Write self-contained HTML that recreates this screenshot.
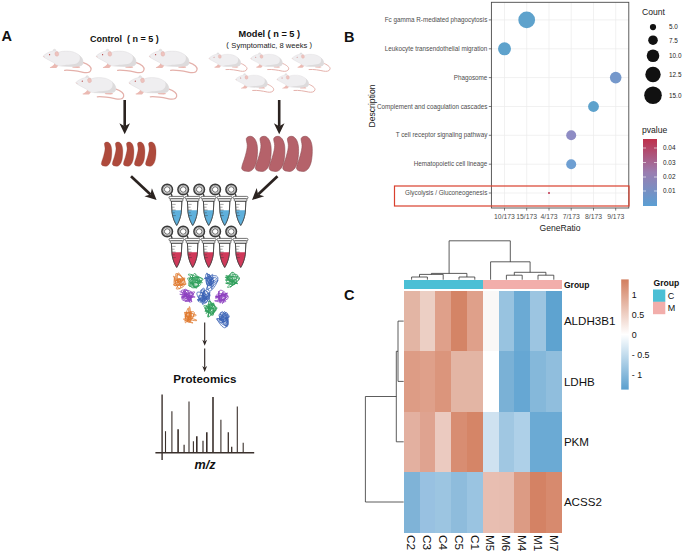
<!DOCTYPE html>
<html><head><meta charset="utf-8"><title>Figure</title>
<style>
html,body{margin:0;padding:0;background:#fff;}
body{width:685px;height:552px;overflow:hidden;font-family:"Liberation Sans",sans-serif;}
svg{display:block;}
</style></head><body>
<svg width="685" height="552" viewBox="0 0 685 552" font-family="Liberation Sans, sans-serif">
<defs>
<linearGradient id="hm" x1="0" y1="0" x2="0" y2="1"><stop offset="0" stop-color="#D27E5E"/><stop offset="0.5" stop-color="#FFFFFF"/><stop offset="1" stop-color="#5A9FCE"/></linearGradient>
<linearGradient id="pv" x1="0" y1="0" x2="0" y2="1"><stop offset="0" stop-color="#BE2F4A"/><stop offset="0.5" stop-color="#9A7DB0"/><stop offset="1" stop-color="#5B9FD3"/></linearGradient>
</defs>
<rect width="685" height="552" fill="#fff"/>
<!-- frag_a.svg -->
<g id="panelA">
<defs><g id="mouse">
<path d="M39.6 12.8C44 14.4 48.7 17.4 48 20.1C47.3 23.2 43 23.4 40 22.8C34 21.6 28 20.3 21.6 20.8" fill="none" stroke="#E4B0AA" stroke-width="1.25" stroke-linecap="round"/>
<path d="M11.6 13.6C11 15.8 9.4 17 6.9 17.7C6.6 18.3 7.4 18.5 8.4 18.4L13.3 18.5C14.4 17.6 15 16.6 15.4 15.6Z" fill="#EBB9B2"/>
<path d="M29.2 17.3C29.6 15.6 32.5 15.2 34.5 15.6L37.2 17.6C37 18.3 36 18.5 34.6 18.4L30 18.3C29.3 18.2 29 17.8 29.2 17.3Z" fill="#EBB9B2"/>
<ellipse cx="11.5" cy="1.3" rx="1.5" ry="1.7" fill="#E6E4E5" stroke="#D6D3D4" stroke-width="0.3"/>
<path d="M0.3 6.4C2 4.5 6 2.2 9.5 1.6C11 0.9 13 1.5 15.8 2.7C20 1.2 26 1.4 29.7 2.3C35 3.8 39 7.5 39.9 10.9C40.6 13.5 39.6 15.6 37.9 16.2C32 17.4 24 17 17.4 16.6C14.5 16.2 12 15 10.9 13.3C8 11.6 4.5 10 1.9 8.4C0.8 7.8 0 7 0.3 6.4Z" fill="#EFEEF0" stroke="#D9D6D8" stroke-width="0.4"/>
<path d="M17.4 16.6C24 17 32 17.4 37.9 16.2C39.6 15.6 40.6 13.5 39.9 10.9C39.4 9 38 7 36.2 5.6C37.6 9 37 12.4 33.5 13.9C29 15.4 22 14.6 17.4 16.6Z" fill="#DDDBDC"/>
<ellipse cx="13.8" cy="4.4" rx="1.9" ry="2.3" fill="#EEC3BE" stroke="#DDA9A3" stroke-width="0.35" transform="rotate(-12 13.8 4.4)"/>
<circle cx="6.6" cy="5.2" r="0.6" fill="#B23838"/>
<path d="M0.2 6.6C0.6 7.2 1.2 7.6 1.8 7.6" fill="none" stroke="#E8B8B4" stroke-width="0.6"/>
</g></defs>
<use href="#mouse" x="43" y="49.5"/>
<use href="#mouse" x="96" y="49.5"/>
<use href="#mouse" x="149" y="49.5"/>
<use href="#mouse" x="75.7" y="76"/>
<use href="#mouse" x="128.7" y="76"/>
<use href="#mouse" transform="translate(208.8 53) scale(0.795)"/>
<use href="#mouse" transform="translate(250.5 53) scale(0.795)"/>
<use href="#mouse" transform="translate(291.9 53) scale(0.795)"/>
<use href="#mouse" transform="translate(235.5 73.9) scale(0.795)"/>
<use href="#mouse" transform="translate(276.8 73.9) scale(0.795)"/>
<g fill="#111" font-weight="bold">
<text x="1.5" y="41" font-size="14.5">A</text>
<text x="90" y="41.7" font-size="9" xml:space="preserve">Control  ( n = 5 )</text>
<text x="269.3" y="36.7" font-size="9.2" text-anchor="middle">Model ( n = 5 )</text>
<text x="204.8" y="383.3" font-size="11.6" text-anchor="middle">Proteomics</text>
<text x="205" y="468.6" font-size="12.6" font-style="italic" text-anchor="middle">m/z</text>
</g>
<text x="269.3" y="47.6" font-size="7.6" fill="#222" text-anchor="middle">Symptomatic, 8 weeks</text><text x="227.6" y="47.4" font-size="7.6" fill="#222" text-anchor="middle">(</text><text x="310.8" y="47.4" font-size="7.6" fill="#222" text-anchor="middle">)</text>
<path d="M124.7 100.0L124.7 126.3" stroke="#2b2320" stroke-width="2.6"/><path d="M124.7 134.2L119.4 123.2L124.7 126.3L130.0 123.2Z" fill="#2b2320"/>
<path d="M279.2 100.0L279.2 126.3" stroke="#2b2320" stroke-width="2.6"/><path d="M279.2 134.2L273.9 123.2L279.2 126.3L284.5 123.2Z" fill="#2b2320"/>
<path d="M131.0 176.3L150.5 194.4" stroke="#2b2320" stroke-width="2.7"/><path d="M156.6 200.0L144.4 196.2L150.5 194.4L151.9 188.2Z" fill="#2b2320"/>
<path d="M277.5 176.3L258.1 194.4" stroke="#2b2320" stroke-width="2.7"/><path d="M252.0 200.0L256.7 188.1L258.1 194.4L264.2 196.2Z" fill="#2b2320"/>
<path d="M204.7 322.6L204.7 341.4" stroke="#2b2320" stroke-width="1.1"/><path d="M204.7 345.7L202.3 339.7L204.7 341.4L207.1 339.7Z" fill="#2b2320"/>
<path d="M204.7 348.4L204.7 367.7" stroke="#2b2320" stroke-width="1.1"/><path d="M204.7 372.0L202.3 366.0L204.7 367.7L207.1 366.0Z" fill="#2b2320"/>
<path d="M3.3 1.6C3.6 0.4 5 0 6.2 0C8.8 0.2 10.6 4 10.7 8.4C10.8 11.5 10.6 14 10.2 16.5C9.6 20.5 7.6 24 5.1 24.2C2.6 24.4 0 23.6 0.2 21.7C0.6 18.8 1.9 16.5 2.6 13.5C3.4 10.5 3.9 8.5 3.9 6.3C3.9 4.5 3.1 3 3.3 1.6Z" transform="translate(101.1 142)" fill="#AE4A3C" stroke="#8E3A30" stroke-width="0.3"/>
<path d="M3.3 1.6C3.6 0.4 5 0 6.2 0C8.8 0.2 10.6 4 10.7 8.4C10.8 11.5 10.6 14 10.2 16.5C9.6 20.5 7.6 24 5.1 24.2C2.6 24.4 0 23.6 0.2 21.7C0.6 18.8 1.9 16.5 2.6 13.5C3.4 10.5 3.9 8.5 3.9 6.3C3.9 4.5 3.1 3 3.3 1.6Z" transform="translate(112.1 142)" fill="#AE4A3C" stroke="#8E3A30" stroke-width="0.3"/>
<path d="M3.3 1.6C3.6 0.4 5 0 6.2 0C8.8 0.2 10.6 4 10.7 8.4C10.8 11.5 10.6 14 10.2 16.5C9.6 20.5 7.6 24 5.1 24.2C2.6 24.4 0 23.6 0.2 21.7C0.6 18.8 1.9 16.5 2.6 13.5C3.4 10.5 3.9 8.5 3.9 6.3C3.9 4.5 3.1 3 3.3 1.6Z" transform="translate(123.2 142)" fill="#AE4A3C" stroke="#8E3A30" stroke-width="0.3"/>
<path d="M3.3 1.6C3.6 0.4 5 0 6.2 0C8.8 0.2 10.6 4 10.7 8.4C10.8 11.5 10.6 14 10.2 16.5C9.6 20.5 7.6 24 5.1 24.2C2.6 24.4 0 23.6 0.2 21.7C0.6 18.8 1.9 16.5 2.6 13.5C3.4 10.5 3.9 8.5 3.9 6.3C3.9 4.5 3.1 3 3.3 1.6Z" transform="translate(134.2 142)" fill="#AE4A3C" stroke="#8E3A30" stroke-width="0.3"/>
<path d="M3.3 1.6C3.6 0.4 5 0 6.2 0C8.8 0.2 10.6 4 10.7 8.4C10.8 11.5 10.6 14 10.2 16.5C9.6 20.5 7.6 24 5.1 24.2C2.6 24.4 0 23.6 0.2 21.7C0.6 18.8 1.9 16.5 2.6 13.5C3.4 10.5 3.9 8.5 3.9 6.3C3.9 4.5 3.1 3 3.3 1.6Z" transform="translate(145.3 142)" fill="#AE4A3C" stroke="#8E3A30" stroke-width="0.3"/>
<path d="M3.3 1.6C3.6 0.4 5 0 6.2 0C8.8 0.2 10.6 4 10.7 8.4C10.8 11.5 10.6 14 10.2 16.5C9.6 20.5 7.6 24 5.1 24.2C2.6 24.4 0 23.6 0.2 21.7C0.6 18.8 1.9 16.5 2.6 13.5C3.4 10.5 3.9 8.5 3.9 6.3C3.9 4.5 3.1 3 3.3 1.6Z" transform="translate(241.4 136.3) scale(1.5 1.45)" fill="#B5626A" stroke="#8E4A52" stroke-width="0.4"/>
<path d="M3.3 1.6C3.6 0.4 5 0 6.2 0C8.8 0.2 10.6 4 10.7 8.4C10.8 11.5 10.6 14 10.2 16.5C9.6 20.5 7.6 24 5.1 24.2C2.6 24.4 0 23.6 0.2 21.7C0.6 18.8 1.9 16.5 2.6 13.5C3.4 10.5 3.9 8.5 3.9 6.3C3.9 4.5 3.1 3 3.3 1.6Z" transform="translate(255.1 136.3) scale(1.5 1.45)" fill="#B5626A" stroke="#8E4A52" stroke-width="0.4"/>
<path d="M3.3 1.6C3.6 0.4 5 0 6.2 0C8.8 0.2 10.6 4 10.7 8.4C10.8 11.5 10.6 14 10.2 16.5C9.6 20.5 7.6 24 5.1 24.2C2.6 24.4 0 23.6 0.2 21.7C0.6 18.8 1.9 16.5 2.6 13.5C3.4 10.5 3.9 8.5 3.9 6.3C3.9 4.5 3.1 3 3.3 1.6Z" transform="translate(268.8 136.3) scale(1.5 1.45)" fill="#B5626A" stroke="#8E4A52" stroke-width="0.4"/>
<path d="M3.3 1.6C3.6 0.4 5 0 6.2 0C8.8 0.2 10.6 4 10.7 8.4C10.8 11.5 10.6 14 10.2 16.5C9.6 20.5 7.6 24 5.1 24.2C2.6 24.4 0 23.6 0.2 21.7C0.6 18.8 1.9 16.5 2.6 13.5C3.4 10.5 3.9 8.5 3.9 6.3C3.9 4.5 3.1 3 3.3 1.6Z" transform="translate(282.5 136.3) scale(1.5 1.45)" fill="#B5626A" stroke="#8E4A52" stroke-width="0.4"/>
<path d="M3.3 1.6C3.6 0.4 5 0 6.2 0C8.8 0.2 10.6 4 10.7 8.4C10.8 11.5 10.6 14 10.2 16.5C9.6 20.5 7.6 24 5.1 24.2C2.6 24.4 0 23.6 0.2 21.7C0.6 18.8 1.9 16.5 2.6 13.5C3.4 10.5 3.9 8.5 3.9 6.3C3.9 4.5 3.1 3 3.3 1.6Z" transform="translate(296.2 136.3) scale(1.5 1.45)" fill="#B5626A" stroke="#8E4A52" stroke-width="0.4"/>
<g transform="translate(169.0 196.4)" stroke="#3a3a3a" stroke-width="0.7" fill="#fff"><circle cx="-1.8" cy="-6.9" r="5.3" stroke-width="1.5"/><circle cx="-1.8" cy="-6.9" r="4.05" stroke-width="0.5" fill="none"/><circle cx="-1.8" cy="-6.9" r="2.8" stroke-width="0.8"/><path d="M2.2 -2.6L3.2 0.2" stroke-width="1.3"/><path d="M2.4 4.6H12.9L12.3 16C11.6 21.5 9.4 26.5 7.7 29C6 26.5 3.7 21.5 3 16Z"/><path d="M2.95 13.9H12.4L12.3 16C11.6 21.5 9.4 26.5 7.7 29C6 26.5 3.7 21.5 3 16Z" fill="#5FB0DC" stroke="none"/><path d="M2.4 4.6H12.9L12.3 16C11.6 21.5 9.4 26.5 7.7 29C6 26.5 3.7 21.5 3 16Z" fill="none"/><path d="M3.2 8h3.4M3.2 10.8h2.4M3.2 13.6h3.4M3.4 16.4h2.4M3.8 19.2h3" stroke-width="0.45"/><rect x="0" y="0" width="15" height="2.4" rx="1.2"/><rect x="1.2" y="2.4" width="12.8" height="2.3" rx="1"/></g>
<g transform="translate(185.0 196.4)" stroke="#3a3a3a" stroke-width="0.7" fill="#fff"><circle cx="-1.8" cy="-6.9" r="5.3" stroke-width="1.5"/><circle cx="-1.8" cy="-6.9" r="4.05" stroke-width="0.5" fill="none"/><circle cx="-1.8" cy="-6.9" r="2.8" stroke-width="0.8"/><path d="M2.2 -2.6L3.2 0.2" stroke-width="1.3"/><path d="M2.4 4.6H12.9L12.3 16C11.6 21.5 9.4 26.5 7.7 29C6 26.5 3.7 21.5 3 16Z"/><path d="M2.95 13.9H12.4L12.3 16C11.6 21.5 9.4 26.5 7.7 29C6 26.5 3.7 21.5 3 16Z" fill="#5FB0DC" stroke="none"/><path d="M2.4 4.6H12.9L12.3 16C11.6 21.5 9.4 26.5 7.7 29C6 26.5 3.7 21.5 3 16Z" fill="none"/><path d="M3.2 8h3.4M3.2 10.8h2.4M3.2 13.6h3.4M3.4 16.4h2.4M3.8 19.2h3" stroke-width="0.45"/><rect x="0" y="0" width="15" height="2.4" rx="1.2"/><rect x="1.2" y="2.4" width="12.8" height="2.3" rx="1"/></g>
<g transform="translate(201.0 196.4)" stroke="#3a3a3a" stroke-width="0.7" fill="#fff"><circle cx="-1.8" cy="-6.9" r="5.3" stroke-width="1.5"/><circle cx="-1.8" cy="-6.9" r="4.05" stroke-width="0.5" fill="none"/><circle cx="-1.8" cy="-6.9" r="2.8" stroke-width="0.8"/><path d="M2.2 -2.6L3.2 0.2" stroke-width="1.3"/><path d="M2.4 4.6H12.9L12.3 16C11.6 21.5 9.4 26.5 7.7 29C6 26.5 3.7 21.5 3 16Z"/><path d="M2.95 13.9H12.4L12.3 16C11.6 21.5 9.4 26.5 7.7 29C6 26.5 3.7 21.5 3 16Z" fill="#5FB0DC" stroke="none"/><path d="M2.4 4.6H12.9L12.3 16C11.6 21.5 9.4 26.5 7.7 29C6 26.5 3.7 21.5 3 16Z" fill="none"/><path d="M3.2 8h3.4M3.2 10.8h2.4M3.2 13.6h3.4M3.4 16.4h2.4M3.8 19.2h3" stroke-width="0.45"/><rect x="0" y="0" width="15" height="2.4" rx="1.2"/><rect x="1.2" y="2.4" width="12.8" height="2.3" rx="1"/></g>
<g transform="translate(217.0 196.4)" stroke="#3a3a3a" stroke-width="0.7" fill="#fff"><circle cx="-1.8" cy="-6.9" r="5.3" stroke-width="1.5"/><circle cx="-1.8" cy="-6.9" r="4.05" stroke-width="0.5" fill="none"/><circle cx="-1.8" cy="-6.9" r="2.8" stroke-width="0.8"/><path d="M2.2 -2.6L3.2 0.2" stroke-width="1.3"/><path d="M2.4 4.6H12.9L12.3 16C11.6 21.5 9.4 26.5 7.7 29C6 26.5 3.7 21.5 3 16Z"/><path d="M2.95 13.9H12.4L12.3 16C11.6 21.5 9.4 26.5 7.7 29C6 26.5 3.7 21.5 3 16Z" fill="#5FB0DC" stroke="none"/><path d="M2.4 4.6H12.9L12.3 16C11.6 21.5 9.4 26.5 7.7 29C6 26.5 3.7 21.5 3 16Z" fill="none"/><path d="M3.2 8h3.4M3.2 10.8h2.4M3.2 13.6h3.4M3.4 16.4h2.4M3.8 19.2h3" stroke-width="0.45"/><rect x="0" y="0" width="15" height="2.4" rx="1.2"/><rect x="1.2" y="2.4" width="12.8" height="2.3" rx="1"/></g>
<g transform="translate(233.0 196.4)" stroke="#3a3a3a" stroke-width="0.7" fill="#fff"><circle cx="-1.8" cy="-6.9" r="5.3" stroke-width="1.5"/><circle cx="-1.8" cy="-6.9" r="4.05" stroke-width="0.5" fill="none"/><circle cx="-1.8" cy="-6.9" r="2.8" stroke-width="0.8"/><path d="M2.2 -2.6L3.2 0.2" stroke-width="1.3"/><path d="M2.4 4.6H12.9L12.3 16C11.6 21.5 9.4 26.5 7.7 29C6 26.5 3.7 21.5 3 16Z"/><path d="M2.95 13.9H12.4L12.3 16C11.6 21.5 9.4 26.5 7.7 29C6 26.5 3.7 21.5 3 16Z" fill="#5FB0DC" stroke="none"/><path d="M2.4 4.6H12.9L12.3 16C11.6 21.5 9.4 26.5 7.7 29C6 26.5 3.7 21.5 3 16Z" fill="none"/><path d="M3.2 8h3.4M3.2 10.8h2.4M3.2 13.6h3.4M3.4 16.4h2.4M3.8 19.2h3" stroke-width="0.45"/><rect x="0" y="0" width="15" height="2.4" rx="1.2"/><rect x="1.2" y="2.4" width="12.8" height="2.3" rx="1"/></g>
<g transform="translate(169.0 238.4)" stroke="#3a3a3a" stroke-width="0.7" fill="#fff"><circle cx="-1.8" cy="-6.9" r="5.3" stroke-width="1.5"/><circle cx="-1.8" cy="-6.9" r="4.05" stroke-width="0.5" fill="none"/><circle cx="-1.8" cy="-6.9" r="2.8" stroke-width="0.8"/><path d="M2.2 -2.6L3.2 0.2" stroke-width="1.3"/><path d="M2.4 4.6H12.9L12.3 16C11.6 21.5 9.4 26.5 7.7 29C6 26.5 3.7 21.5 3 16Z"/><path d="M2.95 13.9H12.4L12.3 16C11.6 21.5 9.4 26.5 7.7 29C6 26.5 3.7 21.5 3 16Z" fill="#D0395A" stroke="none"/><path d="M2.4 4.6H12.9L12.3 16C11.6 21.5 9.4 26.5 7.7 29C6 26.5 3.7 21.5 3 16Z" fill="none"/><path d="M3.2 8h3.4M3.2 10.8h2.4M3.2 13.6h3.4M3.4 16.4h2.4M3.8 19.2h3" stroke-width="0.45"/><rect x="0" y="0" width="15" height="2.4" rx="1.2"/><rect x="1.2" y="2.4" width="12.8" height="2.3" rx="1"/></g>
<g transform="translate(185.0 238.4)" stroke="#3a3a3a" stroke-width="0.7" fill="#fff"><circle cx="-1.8" cy="-6.9" r="5.3" stroke-width="1.5"/><circle cx="-1.8" cy="-6.9" r="4.05" stroke-width="0.5" fill="none"/><circle cx="-1.8" cy="-6.9" r="2.8" stroke-width="0.8"/><path d="M2.2 -2.6L3.2 0.2" stroke-width="1.3"/><path d="M2.4 4.6H12.9L12.3 16C11.6 21.5 9.4 26.5 7.7 29C6 26.5 3.7 21.5 3 16Z"/><path d="M2.95 13.9H12.4L12.3 16C11.6 21.5 9.4 26.5 7.7 29C6 26.5 3.7 21.5 3 16Z" fill="#D0395A" stroke="none"/><path d="M2.4 4.6H12.9L12.3 16C11.6 21.5 9.4 26.5 7.7 29C6 26.5 3.7 21.5 3 16Z" fill="none"/><path d="M3.2 8h3.4M3.2 10.8h2.4M3.2 13.6h3.4M3.4 16.4h2.4M3.8 19.2h3" stroke-width="0.45"/><rect x="0" y="0" width="15" height="2.4" rx="1.2"/><rect x="1.2" y="2.4" width="12.8" height="2.3" rx="1"/></g>
<g transform="translate(201.0 238.4)" stroke="#3a3a3a" stroke-width="0.7" fill="#fff"><circle cx="-1.8" cy="-6.9" r="5.3" stroke-width="1.5"/><circle cx="-1.8" cy="-6.9" r="4.05" stroke-width="0.5" fill="none"/><circle cx="-1.8" cy="-6.9" r="2.8" stroke-width="0.8"/><path d="M2.2 -2.6L3.2 0.2" stroke-width="1.3"/><path d="M2.4 4.6H12.9L12.3 16C11.6 21.5 9.4 26.5 7.7 29C6 26.5 3.7 21.5 3 16Z"/><path d="M2.95 13.9H12.4L12.3 16C11.6 21.5 9.4 26.5 7.7 29C6 26.5 3.7 21.5 3 16Z" fill="#D0395A" stroke="none"/><path d="M2.4 4.6H12.9L12.3 16C11.6 21.5 9.4 26.5 7.7 29C6 26.5 3.7 21.5 3 16Z" fill="none"/><path d="M3.2 8h3.4M3.2 10.8h2.4M3.2 13.6h3.4M3.4 16.4h2.4M3.8 19.2h3" stroke-width="0.45"/><rect x="0" y="0" width="15" height="2.4" rx="1.2"/><rect x="1.2" y="2.4" width="12.8" height="2.3" rx="1"/></g>
<g transform="translate(217.0 238.4)" stroke="#3a3a3a" stroke-width="0.7" fill="#fff"><circle cx="-1.8" cy="-6.9" r="5.3" stroke-width="1.5"/><circle cx="-1.8" cy="-6.9" r="4.05" stroke-width="0.5" fill="none"/><circle cx="-1.8" cy="-6.9" r="2.8" stroke-width="0.8"/><path d="M2.2 -2.6L3.2 0.2" stroke-width="1.3"/><path d="M2.4 4.6H12.9L12.3 16C11.6 21.5 9.4 26.5 7.7 29C6 26.5 3.7 21.5 3 16Z"/><path d="M2.95 13.9H12.4L12.3 16C11.6 21.5 9.4 26.5 7.7 29C6 26.5 3.7 21.5 3 16Z" fill="#D0395A" stroke="none"/><path d="M2.4 4.6H12.9L12.3 16C11.6 21.5 9.4 26.5 7.7 29C6 26.5 3.7 21.5 3 16Z" fill="none"/><path d="M3.2 8h3.4M3.2 10.8h2.4M3.2 13.6h3.4M3.4 16.4h2.4M3.8 19.2h3" stroke-width="0.45"/><rect x="0" y="0" width="15" height="2.4" rx="1.2"/><rect x="1.2" y="2.4" width="12.8" height="2.3" rx="1"/></g>
<g transform="translate(233.0 238.4)" stroke="#3a3a3a" stroke-width="0.7" fill="#fff"><circle cx="-1.8" cy="-6.9" r="5.3" stroke-width="1.5"/><circle cx="-1.8" cy="-6.9" r="4.05" stroke-width="0.5" fill="none"/><circle cx="-1.8" cy="-6.9" r="2.8" stroke-width="0.8"/><path d="M2.2 -2.6L3.2 0.2" stroke-width="1.3"/><path d="M2.4 4.6H12.9L12.3 16C11.6 21.5 9.4 26.5 7.7 29C6 26.5 3.7 21.5 3 16Z"/><path d="M2.95 13.9H12.4L12.3 16C11.6 21.5 9.4 26.5 7.7 29C6 26.5 3.7 21.5 3 16Z" fill="#D0395A" stroke="none"/><path d="M2.4 4.6H12.9L12.3 16C11.6 21.5 9.4 26.5 7.7 29C6 26.5 3.7 21.5 3 16Z" fill="none"/><path d="M3.2 8h3.4M3.2 10.8h2.4M3.2 13.6h3.4M3.4 16.4h2.4M3.8 19.2h3" stroke-width="0.45"/><rect x="0" y="0" width="15" height="2.4" rx="1.2"/><rect x="1.2" y="2.4" width="12.8" height="2.3" rx="1"/></g>
<path d="M180.6 280.2C178.8 281.8 175.9 287.0 174.7 285.5C173.5 283.9 173.7 276.4 176.6 275.0C179.6 273.6 184.0 277.9 184.5 280.8C185.1 283.7 180.4 287.0 178.5 284.6C176.7 282.2 177.1 273.2 178.4 272.9C179.8 272.6 184.5 282.6 183.0 283.6C181.5 284.6 173.7 275.5 173.4 276.2C173.0 276.8 179.9 284.5 181.9 285.7C183.9 286.9 182.0 281.3 180.0 280.1C178.1 278.8 175.2 281.9 175.3 281.7C175.3 281.4 179.1 277.2 180.3 279.3C181.5 281.4 181.0 289.0 179.2 288.7C177.5 288.4 173.7 279.1 174.4 278.2C175.1 277.3 180.6 285.4 181.6 285.7C182.5 286.0 177.3 280.7 177.7 279.2C178.0 277.7 183.6 280.3 182.7 280.7C181.9 281.1 174.2 281.0 174.8 280.6C175.3 280.3 184.6 278.4 184.6 279.5C184.6 280.6 174.4 283.0 174.8 284.3C175.3 285.6 186.7 283.8 186.2 284.0C185.8 284.2 173.7 286.7 173.4 285.0C173.0 283.3 184.5 279.5 185.1 278.4C185.7 277.2 177.2 279.3 175.4 281.1C173.7 283.0 179.1 286.8 179.3 284.5C179.5 282.3 174.2 274.1 176.0 273.6C177.8 273.1 185.2 278.3 185.3 282.8C185.4 287.4 176.7 290.0 176.3 288.8C175.9 287.6 181.6 281.9 183.9 278.9" fill="none" stroke="#E07A2E" stroke-width="0.8" stroke-linejoin="round" stroke-linecap="round"/>
<path d="M189.5 282.9C192.8 282.2 200.8 283.2 200.5 280.6C200.2 278.0 189.0 272.9 188.4 274.3C187.9 275.7 198.4 282.0 198.6 285.3C198.8 288.5 187.8 286.9 189.2 285.1C190.5 283.3 202.7 281.4 203.1 279.3C203.6 277.2 191.3 276.8 190.6 278.0C189.9 279.3 200.5 280.7 200.8 283.5C201.0 286.3 193.9 289.0 191.5 287.4C189.1 285.7 189.7 280.3 192.9 278.0C196.0 275.7 202.1 277.2 202.1 279.6C202.2 282.1 195.4 288.1 193.0 286.2C190.6 284.4 192.1 274.5 194.1 273.6C196.1 272.6 201.5 281.8 199.6 283.2C197.7 284.5 188.6 276.5 187.7 278.1C186.7 279.6 195.8 288.4 196.4 288.3C197.1 288.3 188.0 279.5 189.8 277.8C191.6 276.1 201.1 282.8 202.3 282.7C203.5 282.7 195.2 277.5 193.8 277.7C192.5 277.8 199.0 281.5 197.8 283.1C196.6 284.8 189.5 283.8 189.9 283.0C190.3 282.3 197.8 279.3 199.1 280.6C200.5 281.9 196.5 289.2 194.3 287.4C192.2 285.6 193.4 274.9 191.9 274.5C190.4 274.2 187.4 285.7 189.4 286.4C191.5 287.0 197.8 278.2 198.8 276.9C199.7 275.5 192.7 279.2 192.6 281.9C192.5 284.6 197.5 288.1 198.5 285.9C199.4 283.8 196.6 278.2 195.7 274.8" fill="none" stroke="#2E9E5B" stroke-width="0.8" stroke-linejoin="round" stroke-linecap="round"/>
<path d="M209.2 274.8C210.4 276.8 213.5 278.7 213.3 281.4C213.0 284.2 209.0 284.6 208.4 284.0C207.8 283.3 209.7 279.7 211.2 279.3C212.7 278.9 214.6 280.9 213.4 282.6C212.3 284.3 209.5 287.5 207.4 284.8C205.3 282.2 205.2 273.7 206.5 273.7C207.7 273.7 211.7 283.5 211.6 284.8C211.5 286.2 205.5 279.1 206.2 278.2C206.8 277.2 213.6 283.3 213.8 281.8C213.9 280.2 206.8 272.0 206.7 273.1C206.6 274.2 213.0 282.9 213.5 285.5C214.0 288.2 208.4 284.3 208.5 282.0C208.5 279.7 214.1 278.4 213.8 278.0C213.6 277.7 207.9 281.9 207.5 280.8C207.2 279.8 212.2 273.2 212.7 274.5C213.3 275.8 209.8 283.6 209.4 285.1C209.0 286.7 212.2 278.3 211.4 279.7C210.6 281.1 204.8 289.6 206.8 289.7C208.8 289.9 217.8 281.7 218.0 280.3C218.2 279.0 210.1 287.1 207.5 285.2C204.8 283.4 207.8 273.0 209.2 274.2C210.6 275.4 212.4 288.3 212.0 289.3C211.6 290.3 208.6 277.0 207.9 277.5C207.1 278.1 206.6 291.2 209.6 291.1C212.5 291.0 219.3 280.9 217.7 277.1C216.0 273.3 204.4 278.2 204.0 278.5C203.7 278.9 214.9 276.8 216.5 278.1C218.1 279.5 211.6 281.5 209.5 283.0" fill="none" stroke="#3A62B5" stroke-width="0.8" stroke-linejoin="round" stroke-linecap="round"/>
<path d="M226.2 283.1C228.9 283.1 233.0 286.1 235.2 282.9C237.4 279.7 235.9 273.5 233.6 272.5C231.3 271.5 227.5 278.4 227.6 279.6C227.7 280.9 232.5 275.5 233.8 276.6C235.2 277.7 232.6 284.7 232.2 283.3C231.8 282.0 234.0 272.3 232.5 272.1C230.9 271.8 224.9 280.6 227.0 282.5C229.2 284.3 238.6 276.8 239.5 278.2C240.4 279.7 230.1 287.5 230.0 287.2C229.9 287.0 240.2 280.5 239.2 277.4C238.2 274.4 227.2 277.7 226.7 277.1C226.3 276.5 237.5 272.5 237.7 275.5C238.0 278.6 227.8 285.6 227.5 287.2C227.2 288.8 237.5 283.1 236.9 281.0C236.2 278.8 226.0 279.9 225.3 280.0C224.6 280.1 233.4 280.9 234.5 281.3C235.6 281.8 228.0 280.9 228.9 281.4C229.8 282.0 238.4 282.7 237.5 283.3C236.5 283.8 226.3 283.0 225.7 283.2C225.1 283.4 235.2 285.6 235.4 283.9C235.7 282.1 227.3 279.2 226.5 277.5C225.6 275.9 232.8 278.9 232.7 278.4C232.6 277.9 224.6 274.2 226.0 275.8C227.5 277.4 237.8 283.4 237.6 283.8C237.3 284.1 226.6 277.2 225.2 277.0C223.7 276.7 232.0 282.8 232.8 282.9C233.5 283.0 226.1 279.0 227.7 277.3C229.3 275.6 234.9 277.3 238.0 277.3" fill="none" stroke="#2E9E5B" stroke-width="0.8" stroke-linejoin="round" stroke-linecap="round"/>
<path d="M180.0 291.7C183.8 293.4 192.7 296.6 192.7 297.3C192.6 298.1 179.0 294.3 179.8 294.2C180.5 294.1 194.4 296.2 195.1 297.0C195.7 297.7 183.8 296.8 182.0 296.7C180.1 296.7 188.3 296.6 189.0 296.7C189.7 296.9 184.9 299.4 184.2 297.3C183.6 295.3 184.8 289.3 186.9 289.9C189.0 290.6 191.7 299.3 191.1 299.4C190.5 299.6 184.8 290.5 184.7 290.6C184.7 290.7 192.1 299.7 191.1 299.8C190.0 299.8 180.6 292.6 181.3 290.7C182.0 288.9 192.2 290.4 193.4 293.7C194.6 296.9 185.4 301.5 185.3 301.5C185.2 301.5 194.1 294.5 193.0 293.7C192.0 292.8 182.6 296.6 181.8 298.6C180.9 300.6 189.5 302.6 190.3 300.3C191.1 298.0 184.5 290.2 184.4 290.9C184.4 291.6 190.4 302.6 190.1 302.6C189.7 302.7 182.7 291.3 183.2 291.0C183.7 290.8 191.0 302.3 191.6 301.8C192.3 301.2 187.7 290.0 185.4 289.2C183.2 288.4 181.5 298.3 184.2 299.1C187.0 300.0 194.8 293.2 194.7 292.0C194.6 290.9 185.0 295.0 184.0 295.2C183.1 295.4 190.2 290.9 191.5 292.6C192.9 294.3 191.6 299.5 188.6 300.8C185.6 302.1 180.5 296.8 181.4 296.9C182.4 297.0 188.7 299.9 191.8 301.3" fill="none" stroke="#8B3FBF" stroke-width="0.8" stroke-linejoin="round" stroke-linecap="round"/>
<path d="M203.0 293.1C201.6 295.5 198.4 302.7 198.5 301.2C198.7 299.7 201.5 287.5 203.6 288.0C205.6 288.5 203.6 301.7 205.5 302.9C207.3 304.0 210.4 292.0 209.8 291.8C209.2 291.6 205.2 302.3 203.4 302.1C201.5 301.9 202.5 291.9 203.6 291.1C204.7 290.4 207.3 298.6 207.1 299.6C206.9 300.7 203.9 293.7 203.1 294.6C202.3 295.5 206.0 302.1 204.5 302.6C203.1 303.0 197.1 297.6 198.2 296.2C199.3 294.8 207.7 296.1 208.2 297.9C208.7 299.6 199.2 303.0 199.8 302.1C200.4 301.1 209.3 295.3 210.1 294.8C211.0 294.3 206.5 301.0 202.6 300.4C198.7 299.7 196.0 293.9 197.1 292.5C198.1 291.1 206.2 293.3 206.2 295.6C206.1 297.8 196.7 299.2 197.0 299.9C197.2 300.6 206.6 297.5 206.9 297.7C207.3 298.0 197.3 302.2 198.1 300.7C198.8 299.2 207.6 293.3 209.3 292.8C211.0 292.2 204.9 299.7 203.8 298.9C202.6 298.1 203.9 289.3 205.7 290.2C207.4 291.1 211.0 301.9 209.5 302.0C208.0 302.1 200.5 292.6 200.6 290.5C200.6 288.5 209.1 291.1 209.7 295.1C210.3 299.1 204.3 305.0 202.4 303.8C200.5 302.7 203.3 291.1 203.4 291.2C203.6 291.4 203.0 300.5 202.8 304.4" fill="none" stroke="#3A62B5" stroke-width="0.8" stroke-linejoin="round" stroke-linecap="round"/>
<path d="M222.7 292.1C223.4 294.2 226.3 296.6 225.1 298.9C224.0 301.2 219.5 301.9 218.9 299.8C218.4 297.8 223.6 292.0 223.3 292.0C223.1 292.0 217.7 299.0 218.1 299.8C218.4 300.6 223.5 295.1 224.5 294.7C225.4 294.3 222.2 298.6 221.3 298.5C220.4 298.5 221.9 293.3 221.6 294.7C221.2 296.0 221.0 304.1 220.2 303.1C219.3 302.0 218.8 292.2 218.8 291.2C218.9 290.2 217.7 298.2 220.3 299.7C222.9 301.1 229.0 296.4 227.6 295.9C226.1 295.4 215.8 298.7 215.4 298.1C215.1 297.5 226.5 294.2 226.4 293.9C226.3 293.6 214.9 297.2 215.2 297.0C215.6 296.8 227.1 293.3 227.6 293.2C228.0 293.1 216.9 296.0 216.6 296.6C216.3 297.2 224.9 294.3 226.5 295.2C228.2 296.1 225.1 299.9 222.1 299.7C219.2 299.6 215.9 296.1 216.7 294.7C217.6 293.4 223.3 292.6 225.0 295.3C226.7 298.0 221.9 304.3 222.4 303.6C222.9 303.0 227.0 293.9 226.6 293.1C226.1 292.4 222.8 301.9 220.9 301.0C219.0 300.1 218.0 291.0 220.1 290.2C222.3 289.4 229.6 295.2 228.0 298.4C226.4 301.5 215.3 299.9 214.7 300.7C214.1 301.6 225.7 302.7 225.9 301.3C226.2 300.0 218.7 297.7 215.6 296.2" fill="none" stroke="#8B3FBF" stroke-width="0.8" stroke-linejoin="round" stroke-linecap="round"/>
<path d="M206.0 305.6C208.9 307.2 215.5 309.1 215.6 310.8C215.7 312.4 208.2 313.1 206.3 311.1C204.4 309.0 206.3 304.6 209.2 303.9C212.2 303.2 216.0 306.7 216.3 308.7C216.5 310.8 212.2 312.1 210.1 310.7C208.1 309.3 209.1 302.8 209.5 304.2C209.8 305.5 210.1 315.5 211.3 315.2C212.6 314.9 215.5 304.3 213.6 303.2C211.7 302.1 204.9 311.1 205.0 311.6C205.0 312.2 213.0 306.5 213.8 304.9C214.5 303.4 207.8 303.9 207.6 306.6C207.5 309.3 214.1 313.0 213.2 314.0C212.4 315.0 204.6 310.3 204.9 310.0C205.2 309.6 212.7 315.4 214.2 312.8C215.7 310.1 209.4 301.7 209.9 301.1C210.3 300.5 217.5 309.5 215.7 310.8C213.9 312.2 204.6 304.3 203.9 305.6C203.1 306.9 211.6 316.7 213.2 315.2C214.8 313.7 210.6 300.2 209.3 300.6C207.9 301.0 208.6 314.8 208.7 316.6C208.8 318.3 207.4 308.9 209.6 306.4C211.8 304.0 216.7 305.2 216.1 308.3C215.5 311.5 208.4 318.4 207.6 316.9C206.7 315.4 213.8 304.3 213.4 303.3C212.9 302.2 206.5 312.1 206.0 313.3C205.5 314.6 212.0 308.8 211.6 307.4C211.3 306.0 203.2 308.4 204.9 308.6C206.5 308.8 213.5 308.3 217.2 308.1" fill="none" stroke="#2E9E5B" stroke-width="0.8" stroke-linejoin="round" stroke-linecap="round"/>
<path d="M188.8 320.2C187.9 318.6 185.1 315.0 185.8 314.8C186.4 314.7 189.9 322.1 191.0 319.6C192.0 317.2 190.0 306.2 189.4 306.6C188.8 307.0 189.4 320.5 189.0 321.0C188.7 321.4 189.3 307.6 188.2 308.0C187.0 308.5 184.5 320.4 185.3 322.5C186.0 324.6 189.5 315.7 190.7 314.9C191.9 314.2 189.1 320.9 189.3 320.1C189.4 319.4 191.6 313.2 191.2 312.5C190.7 311.8 189.2 317.9 187.8 317.8C186.5 317.7 186.1 310.8 186.7 312.2C187.2 313.5 188.5 322.5 189.7 322.3C190.8 322.2 191.1 311.8 190.4 311.6C189.7 311.5 187.5 321.5 187.3 321.8C187.0 322.2 190.2 314.1 189.6 312.8C189.0 311.6 184.2 314.6 185.3 317.7C186.3 320.7 193.5 322.6 193.0 323.0C192.5 323.4 182.4 319.7 183.5 318.9C184.7 318.2 196.3 321.6 196.9 320.5C197.5 319.5 186.4 317.7 185.6 315.3C184.8 312.8 193.4 310.3 194.3 312.4C195.1 314.4 191.1 322.0 188.3 322.2C185.5 322.3 185.1 313.7 185.0 312.9C184.9 312.1 185.5 319.1 188.1 319.5C190.7 319.8 194.7 316.2 193.5 314.1C192.4 312.0 183.6 312.2 184.4 312.5C185.2 312.8 195.3 313.7 196.2 315.0C197.0 316.3 189.9 316.3 187.2 316.8" fill="none" stroke="#E07A2E" stroke-width="0.8" stroke-linejoin="round" stroke-linecap="round"/>
<path d="M220.0 319.5C221.7 318.0 223.9 311.9 225.5 314.3C227.2 316.8 227.9 326.1 225.5 327.6C223.1 329.1 217.5 321.2 217.5 319.2C217.6 317.2 223.0 323.1 225.8 321.0C228.5 319.0 228.4 313.1 226.6 312.5C224.8 311.9 219.1 318.0 219.8 319.1C220.6 320.1 229.1 317.8 229.2 316.0C229.2 314.2 220.4 311.7 220.0 313.2C219.6 314.7 227.2 319.2 227.9 321.0C228.5 322.8 222.9 321.9 222.1 319.2C221.3 316.6 223.8 309.9 225.3 312.1C226.8 314.3 228.9 325.3 227.2 326.7C225.5 328.1 219.7 318.7 219.6 316.7C219.5 314.8 227.8 319.5 226.8 320.1C225.9 320.7 216.3 317.3 216.5 318.9C216.8 320.5 225.7 327.5 227.6 325.3C229.4 323.2 224.9 312.7 222.6 311.7C220.3 310.7 218.9 319.8 220.0 321.9C221.0 324.0 226.5 320.8 226.2 318.7C225.9 316.7 218.9 312.9 218.9 315.0C218.9 317.2 225.2 325.3 226.1 326.0C227.1 326.6 222.8 318.2 222.0 317.2C221.1 316.2 222.7 323.4 223.3 322.6C224.0 321.7 223.1 313.7 224.3 314.4C225.5 315.2 226.5 324.9 227.4 325.1C228.2 325.3 229.1 316.5 227.1 315.1C225.1 313.8 219.9 319.9 220.6 320.5C221.3 321.0 226.7 318.0 229.4 316.9" fill="none" stroke="#3A62B5" stroke-width="0.8" stroke-linejoin="round" stroke-linecap="round"/>
<path d="M155.4 452.7H254.2" stroke="#3a302c" stroke-width="1.5"/><path d="M162.1 394.5V459.9" stroke="#3a302c" stroke-width="1.4"/>
<path d="M165.5 431.2V452.7" stroke="#3a302c" stroke-width="1.1"/>
<path d="M171.9 411.2V452.7" stroke="#3a302c" stroke-width="1.1"/>
<path d="M178.1 429.2V452.7" stroke="#3a302c" stroke-width="1.6"/>
<path d="M184.1 444.7V452.7" stroke="#3a302c" stroke-width="1.2"/>
<path d="M189 401.5V452.7" stroke="#3a302c" stroke-width="1.1"/>
<path d="M193.4 441.3V452.7" stroke="#3a302c" stroke-width="1.1"/>
<path d="M196.8 436.3V452.7" stroke="#3a302c" stroke-width="1.6"/>
<path d="M203 440.7V452.7" stroke="#3a302c" stroke-width="1.2"/>
<path d="M206.8 432.2V452.7" stroke="#3a302c" stroke-width="1.6"/>
<path d="M213 396.9V452.7" stroke="#3a302c" stroke-width="1.6"/>
<path d="M220.9 419.8V452.7" stroke="#3a302c" stroke-width="1.1"/>
<path d="M228.3 432.2V452.7" stroke="#3a302c" stroke-width="1.3"/>
<path d="M231.7 446.7V452.7" stroke="#3a302c" stroke-width="1.3"/>
<path d="M237.3 406.5V452.7" stroke="#3a302c" stroke-width="1.1"/>
<path d="M243.2 442.7V452.7" stroke="#3a302c" stroke-width="1.1"/>
</g>
<!-- frag_b.svg -->
<g id="panelB">
<path d="M504.5 2.3V208M526.7 2.3V208M549.0 2.3V208M571.2 2.3V208M593.5 2.3V208M615.7 2.3V208M491.4 19.9H628.8M491.4 48.8H628.8M491.4 77.6H628.8M491.4 106.5H628.8M491.4 135.3H628.8M491.4 164.2H628.8M491.4 193.0H628.8" stroke="#EBEBEB" stroke-width="0.7" fill="none"/>
<rect x="491.4" y="2.3" width="137.4" height="205.7" fill="none" stroke="#4a4a4a" stroke-width="0.9"/>
<path d="M504.5 208v2.6M526.7 208v2.6M549.0 208v2.6M571.2 208v2.6M593.5 208v2.6M615.7 208v2.6M491.4 19.9h-2.6M491.4 48.8h-2.6M491.4 77.6h-2.6M491.4 106.5h-2.6M491.4 135.3h-2.6M491.4 164.2h-2.6M491.4 193.0h-2.6" stroke="#444" stroke-width="0.7" fill="none"/>
<g font-size="6.3" fill="#4d4d4d" text-anchor="end">
<text x="487.3" y="21.9">Fc gamma R-mediated phagocytosis</text>
<text x="487.3" y="50.8">Leukocyte transendothelial migration</text>
<text x="487.3" y="79.6">Phagosome</text>
<text x="487.3" y="108.5">Complement and coagulation cascades</text>
<text x="487.3" y="137.3">T cell receptor signaling pathway</text>
<text x="487.3" y="166.2">Hematopoietic cell lineage</text>
<text x="487.3" y="195.0">Glycolysis / Gluconeogenesis</text>
</g>
<g font-size="6.8" fill="#4d4d4d" text-anchor="middle">
<text x="504.5" y="219.2">10/173</text>
<text x="526.7" y="219.2">15/173</text>
<text x="549.0" y="219.2">4/173</text>
<text x="571.2" y="219.2">7/173</text>
<text x="593.5" y="219.2">8/173</text>
<text x="615.7" y="219.2">9/173</text>
</g>
<text x="560" y="230.5" font-size="8.6" fill="#222" text-anchor="middle">GeneRatio</text>
<text transform="translate(375.2 106) rotate(-90)" font-size="8.6" fill="#222" text-anchor="middle">Description</text>
<circle cx="526.7" cy="19.9" r="8.4" fill="#5EA2CC"/>
<circle cx="504.5" cy="48.8" r="6.5" fill="#5EA2CC"/>
<circle cx="615.7" cy="77.6" r="5.8" fill="#7598CB"/>
<circle cx="593.5" cy="106.5" r="5.4" fill="#5EA2CC"/>
<circle cx="571.2" cy="135.3" r="5.0" fill="#8E8CC4"/>
<circle cx="571.2" cy="164.2" r="5.0" fill="#6E9FD2"/>
<circle cx="549.0" cy="193.0" r="1.0" fill="#C0334D"/>
<rect x="394.5" y="186" width="234.5" height="20" fill="none" stroke="#D9402E" stroke-width="1.2"/>
<text x="642" y="15" font-size="8.6" fill="#222">Count</text>
<circle cx="653" cy="27.1" r="3.1" fill="#111"/><text x="669" y="29.400000000000002" font-size="6.4" fill="#222">5.0</text>
<circle cx="653" cy="40.2" r="4.8" fill="#111"/><text x="669" y="42.5" font-size="6.4" fill="#222">7.5</text>
<circle cx="653" cy="55.8" r="6.3" fill="#111"/><text x="669" y="58.099999999999994" font-size="6.4" fill="#222">10.0</text>
<circle cx="653" cy="74.5" r="7.7" fill="#111"/><text x="669" y="76.8" font-size="6.4" fill="#222">12.5</text>
<circle cx="653" cy="95.2" r="8.8" fill="#111"/><text x="669" y="97.5" font-size="6.4" fill="#222">15.0</text>
<text x="642" y="133" font-size="8.6" fill="#222">pvalue</text>
<rect x="643" y="139" width="14" height="67" fill="url(#pv)"/>
<path d="M643 148h3M657 148h-3" stroke="#fff" stroke-width="0.6"/><text x="663" y="150.3" font-size="6.4" fill="#222">0.04</text>
<path d="M643 162.5h3M657 162.5h-3" stroke="#fff" stroke-width="0.6"/><text x="663" y="164.8" font-size="6.4" fill="#222">0.03</text>
<path d="M643 177h3M657 177h-3" stroke="#fff" stroke-width="0.6"/><text x="663" y="179.3" font-size="6.4" fill="#222">0.02</text>
<path d="M643 191h3M657 191h-3" stroke="#fff" stroke-width="0.6"/><text x="663" y="193.3" font-size="6.4" fill="#222">0.01</text>
<text x="344" y="41.5" font-size="14.5" font-weight="bold" fill="#111">B</text>
<text x="344" y="300" font-size="14.5" font-weight="bold" fill="#111">C</text>
</g>
<!-- frag_c.svg -->
<g id="panelC" shape-rendering="crispEdges">
<rect x="403.7" y="291.0" width="16.1" height="60.6" fill="#E3B5A4"/>
<rect x="419.5" y="291.0" width="16.1" height="60.6" fill="#ECCFC4"/>
<rect x="435.3" y="291.0" width="16.1" height="60.6" fill="#DFA08A"/>
<rect x="451.1" y="291.0" width="16.1" height="60.6" fill="#D48466"/>
<rect x="466.9" y="291.0" width="16.1" height="60.6" fill="#DFA08A"/>
<rect x="482.7" y="291.0" width="16.1" height="60.6" fill="#FAF8F7"/>
<rect x="498.5" y="291.0" width="16.1" height="60.6" fill="#98C3E0"/>
<rect x="514.3" y="291.0" width="16.1" height="60.6" fill="#6BAAD4"/>
<rect x="530.1" y="291.0" width="16.1" height="60.6" fill="#9CC5E1"/>
<rect x="545.9" y="291.0" width="16.1" height="60.6" fill="#5EA3D0"/>
<rect x="403.7" y="351.3" width="16.1" height="60.6" fill="#DD9C85"/>
<rect x="419.5" y="351.3" width="16.1" height="60.6" fill="#DFA08A"/>
<rect x="435.3" y="351.3" width="16.1" height="60.6" fill="#DB957C"/>
<rect x="451.1" y="351.3" width="16.1" height="60.6" fill="#E3B5A4"/>
<rect x="466.9" y="351.3" width="16.1" height="60.6" fill="#E3B5A4"/>
<rect x="482.7" y="351.3" width="16.1" height="60.6" fill="#FFFFFF"/>
<rect x="498.5" y="351.3" width="16.1" height="60.6" fill="#7AB1D6"/>
<rect x="514.3" y="351.3" width="16.1" height="60.6" fill="#66A7D3"/>
<rect x="530.1" y="351.3" width="16.1" height="60.6" fill="#85B8DA"/>
<rect x="545.9" y="351.3" width="16.1" height="60.6" fill="#90BEDD"/>
<rect x="403.7" y="411.6" width="16.1" height="60.6" fill="#E3B0A0"/>
<rect x="419.5" y="411.6" width="16.1" height="60.6" fill="#DFA390"/>
<rect x="435.3" y="411.6" width="16.1" height="60.6" fill="#EBCAC0"/>
<rect x="451.1" y="411.6" width="16.1" height="60.6" fill="#D88D72"/>
<rect x="466.9" y="411.6" width="16.1" height="60.6" fill="#D58567"/>
<rect x="482.7" y="411.6" width="16.1" height="60.6" fill="#CFE2F0"/>
<rect x="498.5" y="411.6" width="16.1" height="60.6" fill="#A0C7E2"/>
<rect x="514.3" y="411.6" width="16.1" height="60.6" fill="#AED0E8"/>
<rect x="530.1" y="411.6" width="16.1" height="60.6" fill="#6BAAD4"/>
<rect x="545.9" y="411.6" width="16.1" height="60.6" fill="#6BAAD4"/>
<rect x="403.7" y="471.9" width="16.1" height="60.6" fill="#7FB3D7"/>
<rect x="419.5" y="471.9" width="16.1" height="60.6" fill="#98C1E1"/>
<rect x="435.3" y="471.9" width="16.1" height="60.6" fill="#9CC5E1"/>
<rect x="451.1" y="471.9" width="16.1" height="60.6" fill="#8EBCDC"/>
<rect x="466.9" y="471.9" width="16.1" height="60.6" fill="#9AC4E1"/>
<rect x="482.7" y="471.9" width="16.1" height="60.6" fill="#E8BEB1"/>
<rect x="498.5" y="471.9" width="16.1" height="60.6" fill="#E7BDB0"/>
<rect x="514.3" y="471.9" width="16.1" height="60.6" fill="#DC9B84"/>
<rect x="530.1" y="471.9" width="16.1" height="60.6" fill="#D48264"/>
<rect x="545.9" y="471.9" width="16.1" height="60.6" fill="#D78A6E"/>
<rect x="403.7" y="280" width="79.0" height="9" fill="#4BBFD5"/>
<rect x="482.7" y="280" width="79.0" height="9" fill="#F2AEAB"/>
</g>
<path d="M411.6 279.7L411.6 277.0M427.4 279.7L427.4 277.0M411.6 277.0L427.4 277.0M419.5 277.0L419.5 274.4M419.5 274.4L443.2 274.4M443.2 274.4L443.2 279.7M459.0 279.7L459.0 277.0M474.8 279.7L474.8 277.0M459.0 277.0L474.8 277.0M466.9 277.0L466.9 273.4M431.4 274.4L431.4 273.4M431.4 273.4L466.9 273.4M506.4 279.7L506.4 275.2M522.2 279.7L522.2 275.2M506.4 275.2L522.2 275.2M538.0 279.7L538.0 275.2M553.8 279.7L553.8 275.2M538.0 275.2L553.8 275.2M514.3 275.2L514.3 272.3M545.9 275.2L545.9 272.3M514.3 272.3L545.9 272.3M530.1 272.3L530.1 261.8M490.6 279.7L490.6 261.8M490.6 261.8L530.1 261.8M510.3 261.8L510.3 240.8M449.1 273.4L449.1 240.8M449.1 240.8L510.3 240.8M398.0 321.1L403.7 321.1M398.0 381.4L403.7 381.4M398.0 321.1L398.0 381.4M396.3 351.3L398.0 351.3M396.3 441.8L403.7 441.8M396.3 351.3L396.3 441.8M365.4 396.5L396.3 396.5M365.4 396.5L365.4 502.0M365.4 502.0L403.7 502.0" stroke="#333" stroke-width="0.8" fill="none"/>
<g font-family="Liberation Sans, sans-serif" fill="#111">
<text x="563.9" y="325.3" font-size="11.6">ALDH3B1</text>
<text x="563.9" y="385.6" font-size="11.6">LDHB</text>
<text x="563.9" y="445.9" font-size="11.6">PKM</text>
<text x="563.9" y="506.2" font-size="11.6">ACSS2</text>
<text x="564" y="287.8" font-size="8.5" font-weight="bold">Group</text>
<text transform="translate(407.4 535) rotate(90)" font-size="11.8">C2</text>
<text transform="translate(423.2 535) rotate(90)" font-size="11.8">C3</text>
<text transform="translate(439.0 535) rotate(90)" font-size="11.8">C4</text>
<text transform="translate(454.8 535) rotate(90)" font-size="11.8">C5</text>
<text transform="translate(470.6 535) rotate(90)" font-size="11.8">C1</text>
<text transform="translate(486.4 535) rotate(90)" font-size="11.8">M5</text>
<text transform="translate(502.2 535) rotate(90)" font-size="11.8">M6</text>
<text transform="translate(518.0 535) rotate(90)" font-size="11.8">M4</text>
<text transform="translate(533.8 535) rotate(90)" font-size="11.8">M1</text>
<text transform="translate(549.6 535) rotate(90)" font-size="11.8">M7</text>
<text x="653.5" y="286" font-size="8.6" font-weight="bold">Group</text>
<rect x="653" y="289.5" width="12.3" height="12.4" fill="#4BBFD5"/><rect x="653" y="301.8" width="12.3" height="12.4" fill="#F2AEAB"/>
<text x="667.8" y="298.6" font-size="9">C</text><text x="667.8" y="310.8" font-size="9">M</text>
<text x="631.8" y="298.2" font-size="8.9">1</text>
<text x="631.8" y="318.2" font-size="8.9">0.5</text>
<text x="631.8" y="338.2" font-size="8.9">0</text>
<text x="631.8" y="358.2" font-size="8.9">- 0.5</text>
<text x="631.8" y="378.2" font-size="8.9">- 1</text>
</g>
<rect x="621.2" y="279.4" width="7.5" height="110.2" fill="url(#hm)"/>
</svg>
</body></html>
